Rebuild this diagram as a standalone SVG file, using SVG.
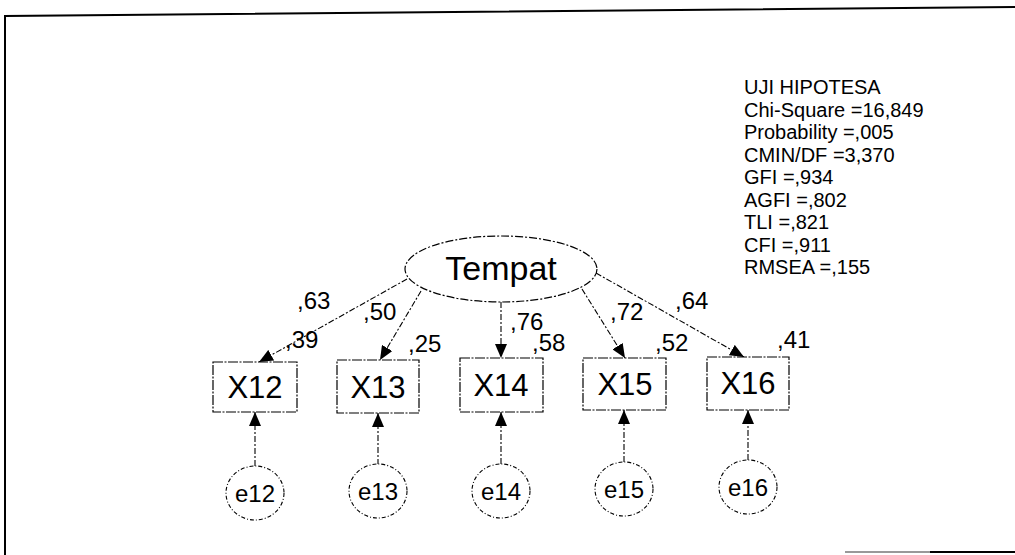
<svg xmlns="http://www.w3.org/2000/svg" width="1015" height="555" viewBox="0 0 1015 555">
<style>
  text { font-family: "Liberation Sans", Arial, sans-serif; fill: #000; }
  .frame { stroke: #000; stroke-width: 2; fill: none; }
  .box { fill: #fff; stroke: #000; stroke-width: 1.2; stroke-dasharray: 10 1.5 2 1.5; }
  .lat { fill: #fff; stroke: #000; stroke-width: 1.2; stroke-dasharray: 8 2 2 2; }
  .err { fill: #fff; stroke: #000; stroke-width: 1.1; stroke-dasharray: 4 2 1 2; }
  .con { stroke: #000; stroke-width: 1.1; fill: none; stroke-dasharray: 6 2 2 2; marker-end: url(#ah); }
  .xl { font-size: 31px; text-anchor: middle; }
  .el { font-size: 24px; text-anchor: middle; }
  .coef { font-size: 24px; }
  .stat { font-size: 20px; }
</style>
<defs>
  <marker id="ah" viewBox="0 0 14 12" refX="14" refY="6" markerWidth="14" markerHeight="12" orient="auto" markerUnits="userSpaceOnUse">
    <path d="M0,0 L14,6 L0,12 z" fill="#000"/>
  </marker>
</defs>
<g id="frame">
  <path class="frame" d="M5,555 L5,16 L1015,7"/>
  <path d="M845,552 L930,552" stroke="#999" stroke-width="2"/>
  <path d="M930,552 L1015,552" stroke="#000" stroke-width="2"/>
</g>
<g id="connectors">
  <path class="con" d="M407,279 L259,362"/>
  <path class="con" d="M421,291 L380,360"/>
  <path class="con" d="M501,302 L501,358"/>
  <path class="con" d="M582,289 L625,358"/>
  <path class="con" d="M596,273 L744,357"/>
  <path class="con" d="M255,466 L255,412"/>
  <path class="con" d="M378,465 L378,413"/>
  <path class="con" d="M501,464 L501,412"/>
  <path class="con" d="M624,462 L624,410"/>
  <path class="con" d="M748,460 L748,410"/>
</g>
<g id="Tempat">
  <ellipse class="lat" cx="501" cy="269" rx="96" ry="33"/>
  <text x="501" y="280" font-size="34" text-anchor="middle">Tempat</text>
</g>
<g id="X12">
  <rect class="box" x="213" y="362" width="84" height="50"/>
  <text class="xl" x="255" y="398">X12</text>
</g>
<g id="X13">
  <rect class="box" x="337" y="360" width="82" height="53"/>
  <text class="xl" x="378" y="398">X13</text>
</g>
<g id="X14">
  <rect class="box" x="460" y="358" width="83" height="54"/>
  <text class="xl" x="501" y="396">X14</text>
</g>
<g id="X15">
  <rect class="box" x="583" y="358" width="83" height="52"/>
  <text class="xl" x="625" y="395">X15</text>
</g>
<g id="X16">
  <rect class="box" x="707" y="357" width="82" height="53"/>
  <text class="xl" x="748" y="394">X16</text>
</g>
<g id="e12">
  <ellipse class="err" cx="255" cy="493" rx="29" ry="27"/>
  <text class="el" x="255" y="502">e12</text>
</g>
<g id="e13">
  <ellipse class="err" cx="378" cy="491" rx="29" ry="27"/>
  <text class="el" x="378" y="500">e13</text>
</g>
<g id="e14">
  <ellipse class="err" cx="501" cy="491" rx="29" ry="27"/>
  <text class="el" x="501" y="500">e14</text>
</g>
<g id="e15">
  <ellipse class="err" cx="624" cy="489" rx="29" ry="27"/>
  <text class="el" x="624" y="498">e15</text>
</g>
<g id="e16">
  <ellipse class="err" cx="748" cy="487" rx="29" ry="27"/>
  <text class="el" x="748" y="496">e16</text>
</g>
<g id="coefficients">
  <text class="coef" x="297" y="309">,63</text>
  <text class="coef" x="285" y="348">,39</text>
  <text class="coef" x="363" y="320">,50</text>
  <text class="coef" x="408" y="352">,25</text>
  <text class="coef" x="510" y="330">,76</text>
  <text class="coef" x="532" y="351">,58</text>
  <text class="coef" x="610" y="320">,72</text>
  <text class="coef" x="675" y="309">,64</text>
  <text class="coef" x="655" y="351">,52</text>
  <text class="coef" x="777" y="348">,41</text>
</g>
<g id="stats">
  <text class="stat" x="744" y="94">UJI HIPOTESA</text>
  <text class="stat" x="744" y="116.5">Chi-Square =16,849</text>
  <text class="stat" x="744" y="139">Probability =,005</text>
  <text class="stat" x="744" y="161.5">CMIN/DF =3,370</text>
  <text class="stat" x="744" y="184">GFI =,934</text>
  <text class="stat" x="744" y="206.5">AGFI =,802</text>
  <text class="stat" x="744" y="229">TLI =,821</text>
  <text class="stat" x="744" y="251.5">CFI =,911</text>
  <text class="stat" x="744" y="274">RMSEA =,155</text>
</g>
</svg>
